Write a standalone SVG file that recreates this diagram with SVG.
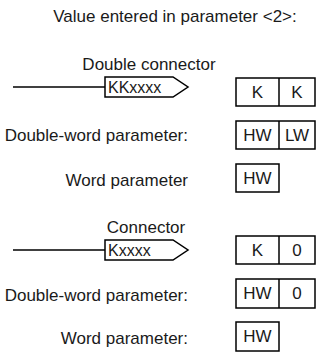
<svg xmlns="http://www.w3.org/2000/svg" width="326" height="358" viewBox="0 0 326 358">
<style>
text{font-family:"Liberation Sans",Arial,sans-serif;font-size:17px;fill:#1a1a1a}
.r{text-anchor:end}
.m{text-anchor:middle}
.s{font-size:16px}
.b{fill:#fff;stroke:#000;stroke-width:1.5}
.l{stroke:#000;stroke-width:1.5;fill:none}
</style>
<rect width="326" height="358" fill="#fff"/>
<text x="175" y="22" class="m">Value entered in parameter &lt;2&gt;:</text>
<g id="connectors">
<line class="l" x1="13" y1="87" x2="105" y2="87"/>
<line class="l" x1="13" y1="250" x2="105" y2="250"/>
</g>
<g id="double-connector">
<text x="149" y="70" class="m">Double connector</text>
<polygon class="b" points="105,77 173,77 188,87 173,97 105,97"/>
<text x="108" y="93" class="s">KKxxxx</text>
</g>
<g id="box-kk">
<rect class="b" x="236" y="78" width="79" height="28"/>
<line class="l" x1="279" y1="78" x2="279" y2="106"/>
<text x="257.5" y="98" class="m">K</text>
<text x="297" y="98" class="m">K</text>
</g>
<g id="dw1">
<text x="188" y="141" class="r">Double-word parameter:</text>
<rect class="b" x="236" y="121" width="79" height="28"/>
<line class="l" x1="279" y1="121" x2="279" y2="149"/>
<text x="257.5" y="141" class="m">HW</text>
<text x="297" y="141" class="m">LW</text>
</g>
<g id="w1">
<text x="188" y="186" class="r">Word parameter</text>
<rect class="b" x="236" y="164" width="43" height="28"/>
<text x="257.5" y="184" class="m">HW</text>
</g>
<g id="connector">
<text x="146" y="233" class="m">Connector</text>
<polygon class="b" points="105,240 173,240 188,250 173,260 105,260"/>
<text x="108" y="256" class="s">Kxxxx</text>
</g>
<g id="box-k0">
<rect class="b" x="236" y="236" width="79" height="28"/>
<line class="l" x1="279" y1="236" x2="279" y2="264"/>
<text x="257.5" y="256" class="m">K</text>
<text x="297" y="256" class="m">0</text>
</g>
<g id="dw2">
<text x="188" y="301" class="r">Double-word parameter:</text>
<rect class="b" x="236" y="279" width="79" height="29"/>
<line class="l" x1="279" y1="279" x2="279" y2="308"/>
<text x="257.5" y="299" class="m">HW</text>
<text x="297" y="299" class="m">0</text>
</g>
<g id="w2">
<text x="188" y="344" class="r">Word parameter:</text>
<rect class="b" x="236" y="322" width="43" height="29"/>
<text x="257.5" y="342" class="m">HW</text>
</g>
</svg>
